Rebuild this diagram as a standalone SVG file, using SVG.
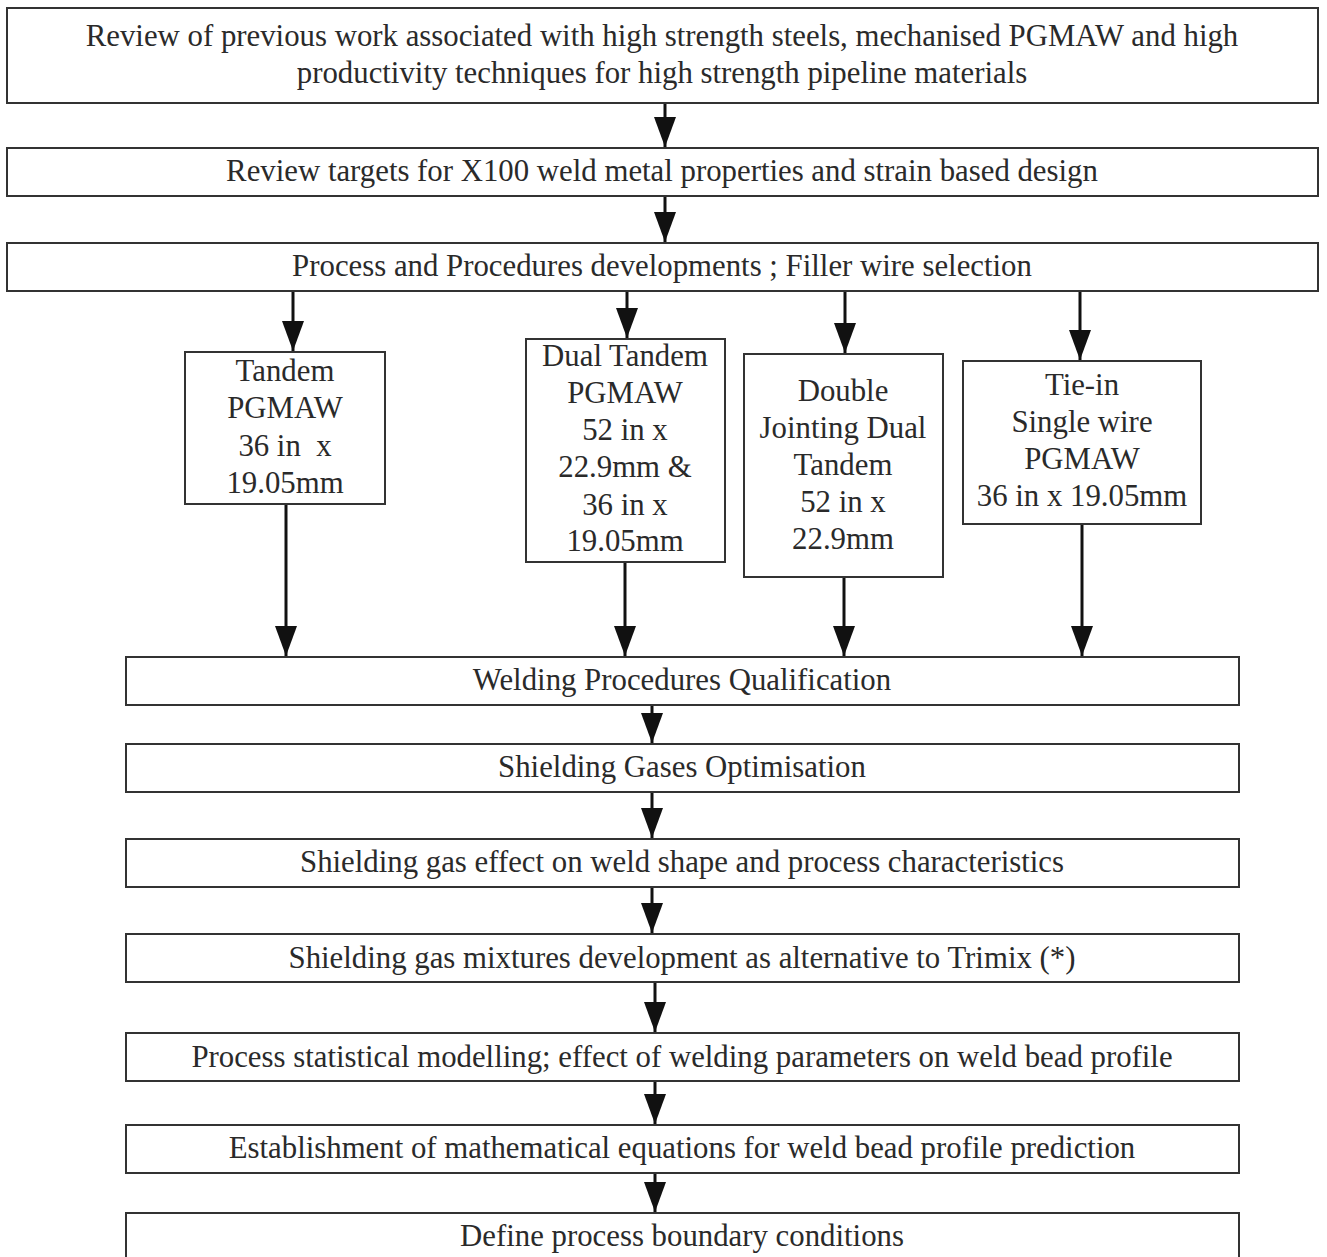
<svg xmlns="http://www.w3.org/2000/svg" width="1327" height="1257" viewBox="0 0 1327 1257">
<defs>
<marker id="ah" markerUnits="userSpaceOnUse" markerWidth="30" markerHeight="22" refX="30" refY="11" orient="auto" viewBox="0 0 30 22">
<path d="M0,0 L30,11 L0,22 Z" fill="#111"/>
</marker>
</defs>
<style>
rect{fill:#fff;stroke:#333;stroke-width:2}
text{font-family:"Liberation Serif","Times New Roman",serif;font-size:30.8px;fill:#2a2a2a;text-anchor:middle}
.c line{stroke:#111;stroke-width:3}
.a{marker-end:url(#ah)}
</style>
<rect x="0" y="0" width="1327" height="1257" style="fill:#fff;stroke:none"/>
<g id="n1"><rect x="7" y="8" width="1311" height="95"/><text x="662" y="46">Review of previous work associated with high strength steels, mechanised PGMAW and high</text><text x="662" y="83">productivity techniques for high strength pipeline materials</text></g>
<g id="n2"><rect x="7" y="148" width="1311" height="48"/><text x="662" y="181">Review targets for X100 weld metal properties and strain based design</text></g>
<g id="n3"><rect x="7" y="243" width="1311" height="48"/><text x="662" y="276">Process and Procedures developments ; Filler wire selection</text></g>
<g id="n4"><rect x="185" y="352" width="200" height="152"/><text x="285" y="381">Tandem</text><text x="285" y="418">PGMAW</text><text x="285" y="456" xml:space="preserve">36 in  x</text><text x="285" y="493">19.05mm</text></g>
<g id="n5"><rect x="526" y="339" width="199" height="223"/><text x="625" y="366">Dual Tandem</text><text x="625" y="403">PGMAW</text><text x="625" y="440">52 in x</text><text x="625" y="477">22.9mm &amp;</text><text x="625" y="515">36 in x</text><text x="625" y="551">19.05mm</text></g>
<g id="n6"><rect x="744" y="354" width="199" height="223"/><text x="843" y="401">Double</text><text x="843" y="438">Jointing Dual</text><text x="843" y="475">Tandem</text><text x="843" y="512">52 in x</text><text x="843" y="549">22.9mm</text></g>
<g id="n7"><rect x="963" y="361" width="238" height="163"/><text x="1082" y="395">Tie-in</text><text x="1082" y="432">Single wire</text><text x="1082" y="469">PGMAW</text><text x="1082" y="506">36 in x 19.05mm</text></g>
<g id="n8"><rect x="126" y="657" width="1113" height="48"/><text x="682" y="690">Welding Procedures Qualification</text></g>
<g id="n9"><rect x="126" y="744" width="1113" height="48"/><text x="682" y="777">Shielding Gases Optimisation</text></g>
<g id="n10"><rect x="126" y="839" width="1113" height="48"/><text x="682" y="872">Shielding gas effect on weld shape and process characteristics</text></g>
<g id="n11"><rect x="126" y="934" width="1113" height="48"/><text x="682" y="968">Shielding gas mixtures development as alternative to Trimix (*)</text></g>
<g id="n12"><rect x="126" y="1033" width="1113" height="48"/><text x="682" y="1067">Process statistical modelling; effect of welding parameters on weld bead profile</text></g>
<g id="n13"><rect x="126" y="1125" width="1113" height="48"/><text x="682" y="1158">Establishment of mathematical equations for weld bead profile prediction</text></g>
<g id="n14"><rect x="126" y="1213" width="1113" height="60"/><text x="682" y="1246">Define process boundary conditions</text></g>
<g id="connectors" class="c">
<line class="a" x1="665" y1="104" x2="665" y2="147"/>
<line class="a" x1="665" y1="197" x2="665" y2="242"/>
<line class="a" x1="293" y1="292" x2="293" y2="351"/>
<line class="a" x1="627" y1="292" x2="627" y2="338"/>
<line class="a" x1="845" y1="292" x2="845" y2="353"/>
<line class="a" x1="1080" y1="292" x2="1080" y2="360"/>
<line class="a" x1="286" y1="505" x2="286" y2="656"/>
<line class="a" x1="625" y1="563" x2="625" y2="656"/>
<line class="a" x1="844" y1="578" x2="844" y2="656"/>
<line class="a" x1="1082" y1="525" x2="1082" y2="656"/>
<line class="a" x1="652" y1="706" x2="652" y2="743"/>
<line class="a" x1="652" y1="793" x2="652" y2="838"/>
<line class="a" x1="652" y1="888" x2="652" y2="933"/>
<line class="a" x1="655" y1="983" x2="655" y2="1032"/>
<line class="a" x1="655" y1="1082" x2="655" y2="1124"/>
<line class="a" x1="655" y1="1174" x2="655" y2="1212"/>
</g>
</svg>
